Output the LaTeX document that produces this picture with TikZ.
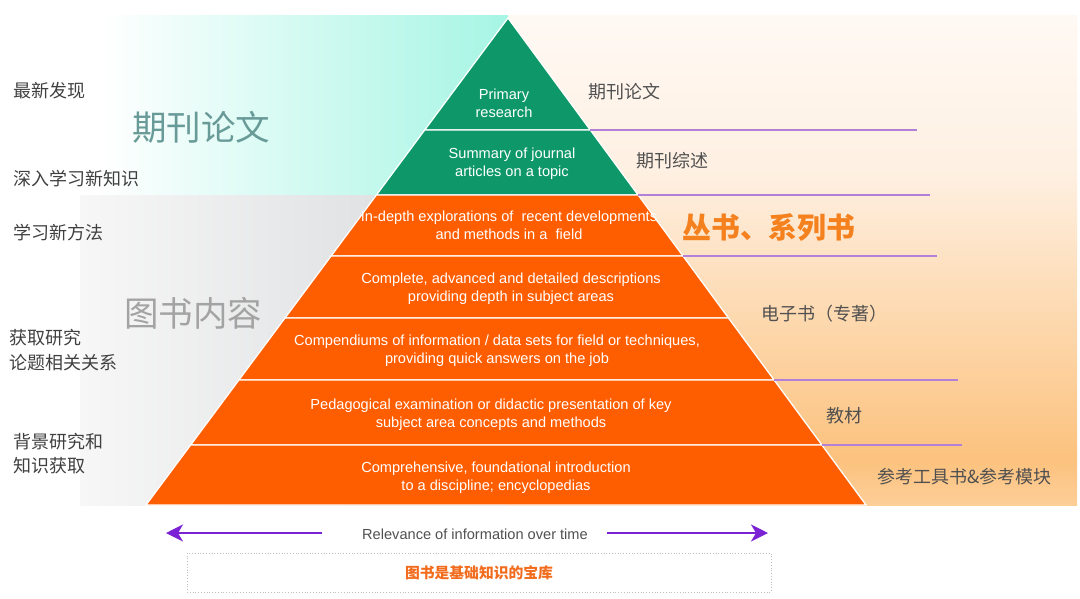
\documentclass[tikz,border=0pt]{standalone}
\usepackage{fontspec}
\setmainfont{Liberation Sans}
\newfontfamily\cjk{Noto Sans CJK SC}
\usetikzlibrary{arrows.meta,calc}
\definecolor{pgreen}{RGB}{14,152,106}
\definecolor{porange}{RGB}{255,94,0}
\definecolor{cyanbg}{RGB}{166,245,228}
\definecolor{grayL}{RGB}{247,247,247}
\definecolor{grayR}{RGB}{214,216,218}
\definecolor{creamA}{RGB}{255,249,244}
\definecolor{creamB}{RGB}{254,240,226}
\definecolor{peachC}{RGB}{252,194,126}
\definecolor{peachD}{RGB}{253,206,152}
\definecolor{lineP}{RGB}{178,128,216}
\definecolor{arrowP}{RGB}{122,34,212}
\definecolor{labelG}{RGB}{64,64,64}
\definecolor{rlabelG}{RGB}{80,80,80}
\definecolor{titleO}{RGB}{245,128,30}
\definecolor{markC}{RGB}{104,154,152}
\definecolor{markG}{RGB}{163,163,163}
\definecolor{boxO}{RGB}{242,108,30}
\tikzset{
  layer/.style={draw=white, line width=1.3},
  ptext/.style={text=white, align=center, font=\fontsize{14.6}{18}\selectfont},
  llabel/.style={text=labelG, anchor=west, align=left, font=\cjk\fontsize{18}{24.5}\selectfont},
  rlabel/.style={text=rlabelG, anchor=west, font=\cjk\fontsize{18}{20}\selectfont},
  wmark/.style={font=\cjk\fontsize{34.5}{38}\selectfont},
  pline/.style={draw=lineP, line width=1.4},
  parrow/.style={draw=arrowP, line width=2.2, -{Stealth[length=17pt,width=17pt,inset=5pt]}},
}
\begin{document}
\begin{tikzpicture}[x=1pt,y=-1pt]
\useasboundingbox (0,0) rectangle (1080,598);
% backgrounds
\shade[left color=white, right color=cyanbg] (100,15) rectangle (508,195);
\shade[left color=grayL, right color=grayR] (80,195) rectangle (508,505);
\shade[top color=creamA, bottom color=creamB] (508,15) rectangle (1077,170);
\shade[top color=creamB, bottom color=peachC] (508,170) rectangle (1077,460);
\shade[top color=peachC, bottom color=peachD] (508,460) rectangle (1077,505);
% pyramid coordinates
\coordinate (A) at (508,18);
\coordinate (l1) at (424.7,130); \coordinate (r1) at (590.3,130);
\coordinate (l2) at (376.4,195); \coordinate (r2) at (638.1,195);
\coordinate (l3) at (331.1,256); \coordinate (r3) at (683.0,256);
\coordinate (l4) at (285.0,318); \coordinate (r4) at (728.5,318);
\coordinate (l5) at (238.9,380); \coordinate (r5) at (774.1,380);
\coordinate (l6) at (190.6,445); \coordinate (r6) at (821.9,445);
\coordinate (l7) at (146,505);   \coordinate (r7) at (866,505);
% layers
\filldraw[layer, fill=pgreen] (A) -- (r1) -- (l1) -- cycle;
\filldraw[layer, fill=pgreen] (l1) -- (r1) -- (r2) -- (l2) -- cycle;
\filldraw[layer, fill=porange] (l2) -- (r2) -- (r3) -- (l3) -- cycle;
\filldraw[layer, fill=porange] (l3) -- (r3) -- (r4) -- (l4) -- cycle;
\filldraw[layer, fill=porange] (l4) -- (r4) -- (r5) -- (l5) -- cycle;
\filldraw[layer, fill=porange] (l5) -- (r5) -- (r6) -- (l6) -- cycle;
\filldraw[layer, fill=porange] (l6) -- (r6) -- (r7) -- (l7) -- cycle;
% purple lines
\coordinate (e1) at (917,130);
\coordinate (e2) at (930,195);
\coordinate (e3) at (937,256);
\coordinate (e5) at (958,380);
\coordinate (e6) at (962,445);
\draw[pline] (r1) -- (e1);
\draw[pline] (r2) -- (e2);
\draw[pline] (r3) -- (e3);
\draw[pline] (r5) -- (e5);
\draw[pline] (r6) -- (e6);
% pyramid texts
\node[ptext] (t1) at (504,103) {Primary\\research};
\node[ptext] (t2) at (512,164) {Summary of journal\\articles on a topic};
\node[ptext] (t3) at (509,225) {In-depth explorations of \ recent developments\\and methods in a \ field};
\node[ptext] (t4) at (511,289) {Complete, advanced and detailed descriptions\\providing depth in subject areas};
\node[ptext] (t5) at (497,351) {Compendiums of information / data sets for field or techniques,\\providing quick answers on the job};
\node[ptext] (t6) at (491,415) {Pedagogical examination or didactic presentation of key\\subject area concepts and methods};
\node[ptext] (t7) at (496,478) {Comprehensive, foundational introduction\\to a discipline; encyclopedias};
% watermarks
\node[wmark, text=markC] (m1) at (201,127) {期刊论文};
\node[wmark, text=markG] (m2) at (193,313) {图书内容};
% left labels
\node[llabel] (L1) at (10,91) {最新发现};
\node[llabel] (L2) at (10,179) {深入学习新知识};
\node[llabel] (L3) at (10,233) {学习新方法};
\node[llabel] (L4) at (6,350) {获取研究\\论题相关关系};
\node[llabel] (L5) at (10,453.5) {背景研究和\\知识获取};
% right labels
\node[rlabel] (R1) at (585,92) {期刊论文};
\node[rlabel] (R2) at (633,161) {期刊综述};
\node[rlabel, text=titleO, font=\cjk\bfseries\fontsize{28.8}{32}\selectfont] (R3) at (679,228) {丛书、系列书};
\node[rlabel] (R4) at (758,314) {电子书（专著）};
\node[rlabel] (R5) at (823,416) {教材};
\node[rlabel] (R6) at (874,477) {参考工具书\&参考模块};
% bottom
\node[text=rlabelG, font=\fontsize{14.6}{16}\selectfont] (rel) at (475,534) {Relevance of information over time};
\coordinate (ls) at (322,533); \coordinate (lt) at (166,533);
\coordinate (rs) at (607,533); \coordinate (rt) at (768,533);
\draw[parrow] (ls) -- (lt);
\draw[parrow] (rs) -- (rt);
\node[draw=gray!50, dotted, line width=0.8, minimum width=584, minimum height=39, inner sep=0,
      text=boxO, font=\cjk\bfseries\fontsize{14.8}{16}\selectfont] (box) at (479,572.5) {图书是基础知识的宝库};
\end{tikzpicture}
\end{document}
